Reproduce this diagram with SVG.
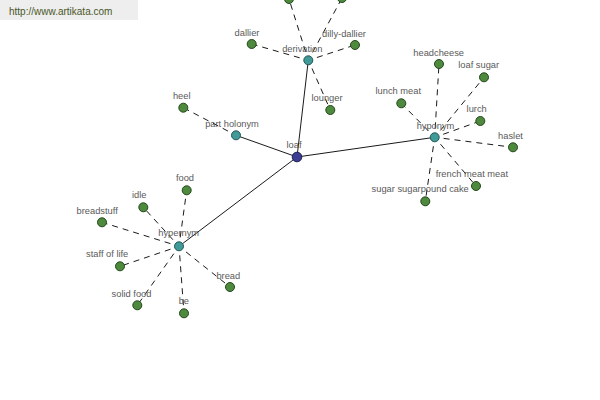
<svg xmlns="http://www.w3.org/2000/svg" width="600" height="400" viewBox="0 0 600 400">
<style>
.lbl{font-family:"Liberation Sans",Arial,sans-serif;font-size:9.3px;fill:#5a5a5a;text-anchor:middle}
.solid{stroke:#1a1a1a;stroke-width:1;fill:none}
.dash{stroke:#1a1a1a;stroke-width:1;stroke-dasharray:6,5;fill:none}
.leaf{fill:#4e8a3e;stroke:#25471c;stroke-width:1}
.hub{fill:#3f9a98;stroke:#245756;stroke-width:1}
.root{fill:#3b3d92;stroke:#1c1d52;stroke-width:1}
</style>
<rect x="0" y="0" width="600" height="400" fill="#ffffff"/>
<g id="watermark">
<rect x="0" y="0" width="138" height="20" fill="#eeeeee"/>
<text x="9" y="15" font-family="Liberation Sans,Arial,sans-serif" font-size="10" fill="#4a5628">http://www.artikata.com</text>
</g>
<g id="connectors">
<line class="solid" x1="297" y1="157" x2="308.3" y2="60.3"/>
<line class="solid" x1="297" y1="157" x2="236" y2="135.3"/>
<line class="solid" x1="297" y1="157" x2="434.7" y2="137.3"/>
<line class="solid" x1="297" y1="157" x2="179" y2="246.3"/>
<line class="dash" x1="299.7" y1="57.8" x2="251.7" y2="44"/>
<line class="dash" x1="316.9" y1="57.5" x2="355" y2="45"/>
<line class="dash" x1="305.6" y1="51.7" x2="289" y2="-1"/>
<line class="dash" x1="312.6" y1="52.4" x2="342" y2="-2"/>
<line class="dash" x1="312" y1="68.5" x2="330.3" y2="110"/>
<line class="dash" x1="228" y1="131.1" x2="183.3" y2="107.7"/>
<line class="dash" x1="435.2" y1="128.3" x2="439" y2="64"/>
<line class="dash" x1="440.4" y1="130.4" x2="484" y2="77.3"/>
<line class="dash" x1="428.4" y1="130.9" x2="401.3" y2="103.3"/>
<line class="dash" x1="443.2" y1="134.3" x2="480.3" y2="121"/>
<line class="dash" x1="443.6" y1="138.4" x2="513" y2="147.3"/>
<line class="dash" x1="440.5" y1="144.2" x2="476" y2="186"/>
<line class="dash" x1="433.4" y1="146.2" x2="425.3" y2="201.3"/>
<line class="dash" x1="180.2" y1="237.4" x2="186.7" y2="190.3"/>
<line class="dash" x1="172.9" y1="239.7" x2="143.3" y2="207.3"/>
<line class="dash" x1="170.4" y1="243.6" x2="102" y2="222.3"/>
<line class="dash" x1="170.5" y1="249.2" x2="120" y2="266.3"/>
<line class="dash" x1="173.8" y1="253.7" x2="137.3" y2="305.3"/>
<line class="dash" x1="179.7" y1="255.3" x2="184" y2="313.3"/>
<line class="dash" x1="186" y1="251.9" x2="230" y2="287"/>
</g>
<g id="top1"><circle class="leaf" cx="289" cy="-1" r="4.5"/></g>
<g id="top2"><circle class="leaf" cx="342" cy="-2" r="4.5"/></g>
<g id="dallier"><circle class="leaf" cx="251.7" cy="44" r="4.5"/><text class="lbl" x="247" y="36">dallier</text></g>
<g id="dilly-dallier"><circle class="leaf" cx="355" cy="45" r="4.5"/><text class="lbl" x="344" y="37">dilly-dallier</text></g>
<g id="lounger"><circle class="leaf" cx="330.3" cy="110" r="4.5"/><text class="lbl" x="327" y="101">lounger</text></g>
<g id="heel"><circle class="leaf" cx="183.3" cy="107.7" r="4.5"/><text class="lbl" x="181.7" y="98.5">heel</text></g>
<g id="headcheese"><circle class="leaf" cx="439" cy="64" r="4.5"/><text class="lbl" x="438.7" y="55.7">headcheese</text></g>
<g id="loaf-sugar"><circle class="leaf" cx="484" cy="77.3" r="4.5"/><text class="lbl" x="478.7" y="68.3">loaf sugar</text></g>
<g id="lunch-meat"><circle class="leaf" cx="401.3" cy="103.3" r="4.5"/><text class="lbl" x="398.3" y="94.3">lunch meat</text></g>
<g id="lurch"><circle class="leaf" cx="480.3" cy="121" r="4.5"/><text class="lbl" x="476.7" y="112.3">lurch</text></g>
<g id="haslet"><circle class="leaf" cx="513" cy="147.3" r="4.5"/><text class="lbl" x="510.5" y="139">haslet</text></g>
<g id="french-meat-meat"><circle class="leaf" cx="476" cy="186" r="4.5"/><text class="lbl" x="471.8" y="177.3">french meat meat</text></g>
<g id="sugar-sugarpound-cake"><circle class="leaf" cx="425.3" cy="201.3" r="4.5"/><text class="lbl" x="420.2" y="191.7">sugar sugarpound cake</text></g>
<g id="food"><circle class="leaf" cx="186.7" cy="190.3" r="4.5"/><text class="lbl" x="185" y="181">food</text></g>
<g id="idle"><circle class="leaf" cx="143.3" cy="207.3" r="4.5"/><text class="lbl" x="139.3" y="197.7">idle</text></g>
<g id="breadstuff"><circle class="leaf" cx="102" cy="222.3" r="4.5"/><text class="lbl" x="97.2" y="213.7">breadstuff</text></g>
<g id="staff-of-life"><circle class="leaf" cx="120" cy="266.3" r="4.5"/><text class="lbl" x="107.2" y="257.3">staff of life</text></g>
<g id="solid-food"><circle class="leaf" cx="137.3" cy="305.3" r="4.5"/><text class="lbl" x="131.5" y="297">solid food</text></g>
<g id="be"><circle class="leaf" cx="184" cy="313.3" r="4.5"/><text class="lbl" x="183.8" y="304">be</text></g>
<g id="bread"><circle class="leaf" cx="230" cy="287" r="4.5"/><text class="lbl" x="228.3" y="279.3">bread</text></g>
<g id="derivation"><circle class="hub" cx="308.3" cy="60.3" r="4.5"/><text class="lbl" x="302.3" y="52">derivation</text></g>
<g id="part-holonym"><circle class="hub" cx="236" cy="135.3" r="4.5"/><text class="lbl" x="232" y="126.7">part holonym</text></g>
<g id="hyponym"><circle class="hub" cx="434.7" cy="137.3" r="4.5"/><text class="lbl" x="435.5" y="129">hyponym</text></g>
<g id="hypernym"><circle class="hub" cx="179" cy="246.3" r="4.5"/><text class="lbl" x="178.7" y="236">hypernym</text></g>
<g id="loaf"><circle class="root" cx="297" cy="157" r="4.8"/><text class="lbl" x="294" y="148">loaf</text></g>
</svg>
